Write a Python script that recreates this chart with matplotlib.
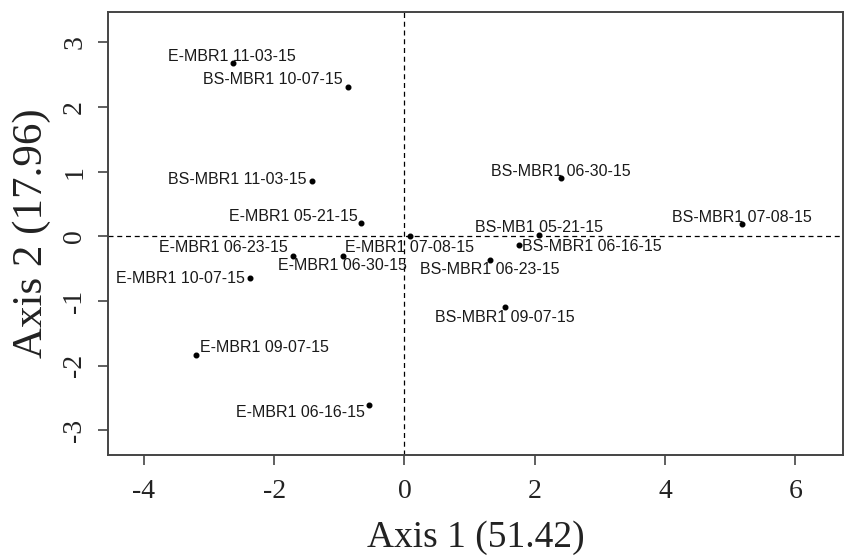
import matplotlib
matplotlib.use('Agg')
import matplotlib.pyplot as plt

plt.rcParams['axes.unicode_minus'] = False

# sample names and ordination scores
labels = ['E-MBR1 11-03-15', 'BS-MBR1 10-07-15', 'BS-MBR1 11-03-15', 'E-MBR1 05-21-15',
          'E-MBR1 07-08-15', 'E-MBR1 06-23-15', 'E-MBR1 06-30-15', 'E-MBR1 10-07-15',
          'E-MBR1 09-07-15', 'E-MBR1 06-16-15', 'BS-MBR1 06-30-15', 'BS-MBR1 07-08-15',
          'BS-MB1 05-21-15', 'BS-MBR1 06-16-15', 'BS-MBR1 06-23-15', 'BS-MBR1 09-07-15']
axis1 = [-2.63, -0.87, -1.42, -0.67, 0.08, -1.71, -0.94, -2.37,
         -3.20, -0.54, 2.40, 5.18, 2.06, 1.76, 1.31, 1.54]
axis2 = [2.68, 2.31, 0.86, 0.21, 0.01, -0.30, -0.30, -0.64,
         -1.83, -2.60, 0.90, 0.19, 0.02, -0.13, -0.36, -1.09]

# label placement: alignment and offset from the point (in pixels, y down)
place = [('center', -1, -7), ('right', -5, -8), ('right', -5, -1), ('right', -3, -6),
         ('center', 0, 12), ('right', -5, -8), ('center', -1, 10), ('right', -5, 1),
         ('left', 4, -7), ('right', -4, 8), ('center', 0, -7), ('center', 0, -7),
         ('center', 0, -8), ('left', 3, 2), ('center', 0, 10), ('center', 0, 11)]

fig = plt.figure(figsize=(8.45, 5.59), dpi=100)
ax = fig.add_axes([0.1278, 0.186, 0.8698, 0.7925])

ax.axhline(0, color='black', linestyle=(0, (4, 3)), linewidth=0.9, zorder=1)
ax.axvline(0, color='black', linestyle=(0, (4, 3)), linewidth=0.9, zorder=1)
ax.scatter(axis1, axis2, s=11, color='black', zorder=3)

for lab, x, y, (ha, dx, dy) in zip(labels, axis1, axis2, place):
    ax.annotate(lab, (x, y), xytext=(dx * 0.72, -dy * 0.72), textcoords='offset points',
                ha=ha, va='center', fontsize=11.5, family='Liberation Sans', color='#1a1a1a')

ax.set_xlim(-4.55, 6.73)
ax.set_ylim(-3.38, 3.47)
ax.set_xticks([-4, -2, 0, 2, 4, 6])
ax.set_yticks([-3, -2, -1, 0, 1, 2, 3])

for sp in ax.spines.values():
    sp.set_color('#444444')
    sp.set_linewidth(1.4)
ax.tick_params(length=7, width=1.2, color='#444444', pad=8, labelcolor='#222222')
ax.tick_params(axis='x', pad=10)
for t in ax.get_xticklabels():
    t.set_family('Liberation Serif')
    t.set_fontsize(20)
for t in ax.get_yticklabels():
    t.set_family('Liberation Serif')
    t.set_fontsize(20)
    t.set_rotation(90)
    t.set_va('center')

ax.set_xlabel('Axis 1 (51.42)', family='Liberation Serif', fontsize=27, color='#222222', labelpad=12)
ax.set_ylabel('Axis 2 (17.96)', family='Liberation Serif', fontsize=31, color='#222222', labelpad=8)

fig.savefig('out.png', dpi=100)
